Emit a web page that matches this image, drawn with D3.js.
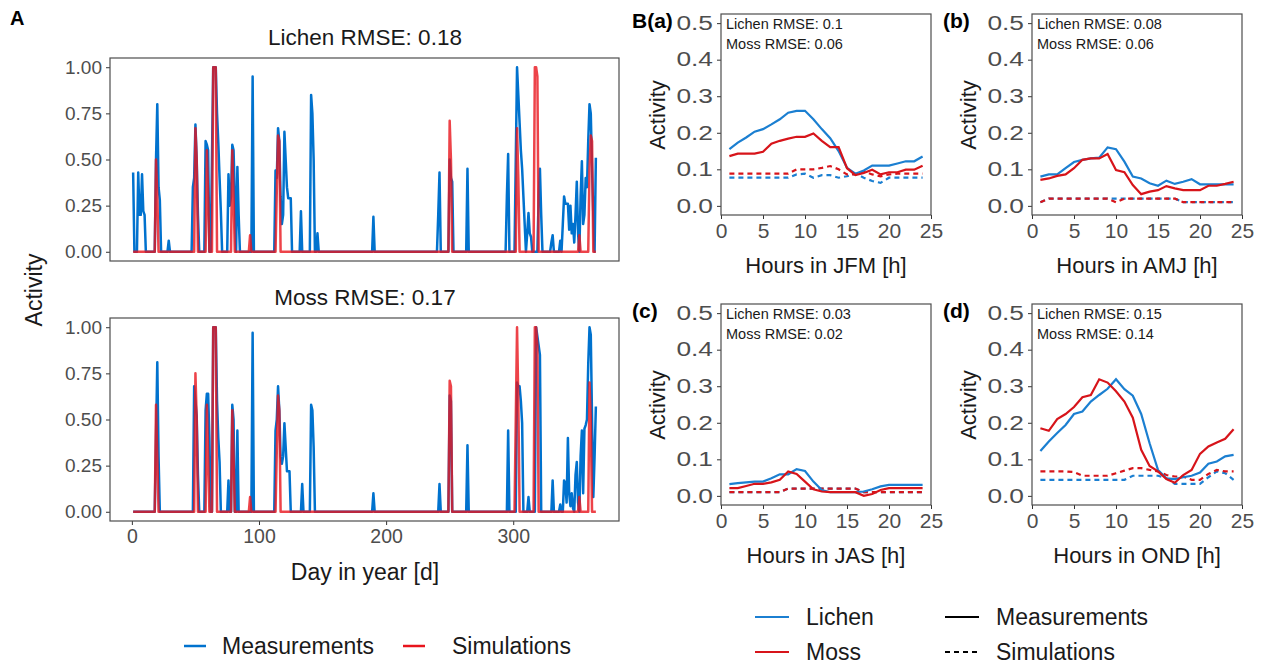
<!DOCTYPE html>
<html>
<head>
<meta charset="utf-8">
<script src="https://cdn.jsdelivr.net/npm/d3@7"></script>
<style>
  body { margin: 0; background: #fff; }
  svg { font-family: "Liberation Sans", Arial, sans-serif; }
  .tick text { fill: #4d4d4d; }
  .tick line { stroke: #333; }
  .domain { display: none; }
</style>
</head>
<body>
<svg id="chart" width="1266" height="670"></svg>
<script>
// ---- data: panel A, day-of-year peaks [day, activity]; all other days are 0
var lichenMeasPeaks = [[1,0.43],[5,0.43],[6,0.2],[7,0.2],[8,0.42],[9,0.22],[10,0.2],
  [19,0.5],[20,0.8],[21,0.35],[22,0.28],[29,0.06],
  [48,0.35],[49,0.4],[50,0.69],[51,0.5],[52,0.2],
  [58,0.6],[59,0.58],[60,0.55],
  [63,0.5],[64,1],[65,1],[66,1],[67,0.75],[68,0.59],[69,0.4],[70,0.22],
  [76,0.42],[77,0.25],[78,0.3],[79,0.58],[80,0.55],[81,0.3],[83,0.46],[84,0.2],
  [95,0.95],
  [113,0.44],[114,0.4],[115,0.67],[116,0.6],[117,0.3],[118,0.15],[119,0.2],[120,0.65],[121,0.5],[122,0.35],[123,0.29],[124,0.29],[125,0.29],
  [133,0.22],[141,0.85],[142,0.75],[143,0.5],[146,0.1],
  [190,0.19],[241,0.2],[242,0.43],
  [250,0.5],[251,0.4],[252,0.38],[264,0.45],
  [295,0.3],[296,0.53],
  [302,0.5],[303,1],[304,0.85],[305,0.7],[306,0.55],[307,0.45],[308,0.3],[309,0.15],
  [311,0.1],[312,0.21],[313,0.1],[314,0.08],
  [320,0.3],[321,0.45],[322,0.2],[330,0.05],[331,0.09],[337,0.06],
  [339,0.15],[340,0.3],[341,0.26],[342,0.26],[343,0.26],[344,0.12],[345,0.25],[346,0.1],[347,0.15],[348,0.05],[349,0.2],[350,0.38],[351,0.1],
  [353,0.3],[354,0.49],[355,0.15],[356,0.2],[357,0.4],[358,0.35],[359,0.6],[360,0.8],[361,0.75],[362,0.45],[363,0.2],[365,0.51]];
var lichenSimPeaks = [[19,0.5],[20,0.3],[50,0.67],[51,0.5],[59,0.55],[60,0.3],
  [64,1],[65,1],[66,1],[79,0.55],[80,0.3],[93,0.09],
  [114,0.33],[115,0.63],[116,0.6],[250,0.71],[251,0.5],
  [303,0.67],[304,0.4],[317,1],[318,1],[319,0.95],[352,0.09],
  [360,0.45],[361,0.63],[362,0.6]];
var mossMeasPeaks = [[19,0.4],[20,0.81],[21,0.3],
  [49,0.68],[50,0.6],[51,0.52],[52,0.2],
  [58,0.55],[59,0.64],[60,0.64],[61,0.4],
  [64,1],[65,1],[66,1],[67,0.6],[68,0.4],[69,0.27],
  [76,0.17],[79,0.58],[80,0.5],[83,0.44],[95,0.97],
  [113,0.44],[114,0.5],[115,0.68],[116,0.55],[117,0.3],[118,0.26],[119,0.3],[120,0.48],[121,0.35],[122,0.22],[123,0.22],[124,0.22],
  [134,0.15],[141,0.58],[142,0.55],[143,0.35],
  [190,0.1],[242,0.15],[250,0.63],[251,0.6],[264,0.36],[296,0.44],
  [303,0.7],[304,0.68],[305,0.68],[306,0.6],[307,0.48],[312,0.08],
  [318,1],[319,0.95],[320,0.9],[321,0.85],[331,0.17],[337,0.04],
  [340,0.17],[341,0.15],[342,0.05],[343,0.4],[344,0.1],[345,0.03],[346,0.1],[347,0.02],[349,0.2],[350,0.27],[351,0.05],
  [353,0.3],[354,0.44],[355,0.1],[356,0.45],[357,0.47],[358,0.5],[359,0.8],[360,1],[361,0.96],[362,0.5],[363,0.08],[364,0.3],[365,0.57]];
var mossSimPeaks = [[19,0.58],[20,0.3],[50,0.75],[51,0.5],[59,0.58],[60,0.3],
  [64,1],[65,1],[66,1],[79,0.55],[80,0.3],[93,0.08],
  [114,0.33],[115,0.63],[116,0.55],[250,0.71],[251,0.68],
  [302,0.5],[303,1],[304,0.6],[317,1],[318,1],[319,0.9],[352,0.08],
  [360,0.7],[361,0.5]];

// ---- data: panel B, hourly means (hours 1..24)
var hours = d3.range(1, 25);
var seasons = ["JFM", "AMJ", "JAS", "OND"];
var tags = ["B(a)", "(b)", "(c)", "(d)"];
var lichenRmse = ["0.1", "0.08", "0.03", "0.15"];
var mossRmse = ["0.06", "0.06", "0.02", "0.14"];

var lichenMeasJFM = [0.155,0.173,0.187,0.203,0.21,0.223,0.237,0.255,0.26,0.26,0.237,0.21,0.185,0.15,0.104,0.088,0.097,0.11,0.11,0.11,0.116,0.122,0.122,0.135];
var mossMeasJFM = [0.136,0.143,0.143,0.143,0.148,0.17,0.178,0.184,0.189,0.189,0.198,0.178,0.161,0.161,0.103,0.084,0.09,0.099,0.086,0.092,0.092,0.099,0.099,0.11];
var lichenSimJFM = [0.077,0.077,0.077,0.077,0.077,0.077,0.077,0.077,0.086,0.088,0.077,0.084,0.084,0.077,0.081,0.088,0.077,0.068,0.063,0.077,0.077,0.077,0.077,0.077];
var mossSimJFM = [0.088,0.088,0.088,0.088,0.088,0.088,0.088,0.088,0.1,0.1,0.1,0.104,0.109,0.1,0.086,0.086,0.095,0.086,0.081,0.086,0.088,0.088,0.088,0.088];

var lichenMeasAMJ = [0.08,0.086,0.086,0.103,0.12,0.126,0.13,0.132,0.16,0.155,0.121,0.08,0.075,0.062,0.055,0.069,0.06,0.066,0.073,0.059,0.059,0.059,0.059,0.059];
var mossMeasAMJ = [0.071,0.075,0.082,0.086,0.103,0.126,0.13,0.13,0.142,0.098,0.092,0.057,0.032,0.039,0.043,0.054,0.048,0.043,0.043,0.043,0.055,0.055,0.06,0.066];
var lichenSimAMJ = [0.01,0.02,0.02,0.02,0.02,0.02,0.02,0.02,0.02,0.02,0.02,0.02,0.02,0.02,0.02,0.02,0.02,0.01,0.01,0.01,0.01,0.01,0.01,0.01];
var mossSimAMJ = [0.01,0.02,0.02,0.02,0.02,0.02,0.02,0.02,0.02,0.01,0.02,0.02,0.02,0.02,0.02,0.02,0.02,0.01,0.01,0.01,0.01,0.01,0.01,0.01];

var lichenMeasJAS = [0.032,0.035,0.037,0.039,0.039,0.048,0.059,0.059,0.073,0.068,0.039,0.016,0.01,0.01,0.01,0.01,0.012,0.018,0.026,0.03,0.03,0.03,0.03,0.03];
var mossMeasJAS = [0.021,0.021,0.027,0.033,0.033,0.037,0.044,0.067,0.06,0.039,0.018,0.012,0.01,0.01,0.01,0.01,0.0,0.005,0.016,0.021,0.021,0.021,0.021,0.021];
var lichenSimJAS = [0.01,0.01,0.01,0.01,0.01,0.01,0.01,0.02,0.02,0.02,0.02,0.02,0.02,0.02,0.02,0.02,0.01,0.01,0.01,0.01,0.01,0.01,0.01,0.01];
var mossSimJAS = [0.01,0.01,0.01,0.01,0.01,0.01,0.01,0.02,0.02,0.02,0.02,0.02,0.02,0.02,0.02,0.02,0.01,0.01,0.01,0.01,0.01,0.01,0.01,0.01];

var lichenMeasOND = [0.123,0.149,0.172,0.194,0.224,0.231,0.258,0.276,0.293,0.319,0.292,0.274,0.224,0.144,0.071,0.048,0.046,0.051,0.055,0.064,0.088,0.094,0.108,0.112];
var mossMeasOND = [0.185,0.178,0.21,0.224,0.243,0.27,0.276,0.319,0.31,0.286,0.258,0.214,0.126,0.082,0.067,0.046,0.036,0.057,0.071,0.115,0.135,0.146,0.156,0.182];
var lichenSimOND = [0.044,0.044,0.044,0.044,0.044,0.044,0.044,0.044,0.044,0.044,0.044,0.055,0.055,0.055,0.055,0.048,0.033,0.033,0.033,0.033,0.051,0.067,0.062,0.044];
var mossSimOND = [0.067,0.067,0.067,0.067,0.065,0.055,0.055,0.055,0.055,0.062,0.069,0.076,0.076,0.071,0.067,0.057,0.053,0.053,0.044,0.044,0.06,0.071,0.067,0.067];

var blueA = "#0072ce", redA = "#e8141c";
var blueB = "#1b7fd1", redB = "#d7141a";
var ink = "#1a1a1a";

var svg = d3.select("#chart");

var daily = function(peaks) {
    let vals = d3.range(1, 366).map(function(d) { return [d, 0]; });
    peaks.forEach(function(p) { vals[p[0] - 1][1] = p[1]; });
    return vals;
}

// ---------- panel A ----------
var xDay = d3.scaleLinear().domain([1 - 18.2, 365 + 18.2]).range([110, 619]);

var dayPanel = function(top, title, meas, sim, showX) {
    var y = d3.scaleLinear().domain([-0.05, 1.05]).range([top + 203, top]);
    var g = svg.append("g");
    g.append("text").attr("x", 365).attr("y", top - 13)
        .attr("text-anchor", "middle").attr("font-size", 22.5).attr("fill", ink)
        .text(title);
    g.append("g").attr("transform", "translate(110,0)")
        .call(d3.axisLeft(y).tickValues([0, 0.25, 0.5, 0.75, 1]).tickFormat(d3.format(".2f")).tickSize(4).tickPadding(4))
        .selectAll("text").attr("font-size", 19);
    if (showX) {
        g.append("g").attr("transform", "translate(0," + (top + 203) + ")")
            .call(d3.axisBottom(xDay).tickValues([0, 100, 200, 300]).tickSize(4).tickPadding(4))
            .selectAll("text").attr("font-size", 19.5);
    }
    var line = d3.line().x(function(d) { return xDay(d[0]); }).y(function(d) { return y(d[1]); });
    g.append("path").datum(daily(meas)).attr("d", line)
        .attr("fill", "none").attr("stroke", blueA).attr("stroke-width", 2.5).attr("stroke-linejoin", "round");
    g.append("path").datum(daily(sim)).attr("d", line)
        .attr("fill", "none").attr("stroke", redA).attr("stroke-opacity", 0.8).attr("stroke-width", 2.5).attr("stroke-linejoin", "round");
    g.append("rect").attr("x", 110).attr("y", top).attr("width", 509).attr("height", 203)
        .attr("fill", "none").attr("stroke", "#4d4d4d").attr("stroke-width", 1.2);
}

dayPanel(58, "Lichen RMSE: 0.18", lichenMeasPeaks, lichenSimPeaks, false);
dayPanel(318, "Moss RMSE: 0.17", mossMeasPeaks, mossSimPeaks, true);

svg.append("text").attr("x", 10).attr("y", 25).attr("font-size", 20).attr("font-weight", "bold").text("A");
svg.append("text").attr("transform", "translate(42,290) rotate(-90)").attr("text-anchor", "middle")
    .attr("font-size", 23).attr("fill", ink).text("Activity");
svg.append("text").attr("x", 365).attr("y", 580).attr("text-anchor", "middle")
    .attr("font-size", 23).attr("fill", ink).text("Day in year [d]");

// legend A
[["Measurements", blueA, 184, 222], ["Simulations", redA, 403, 452]].forEach(function(l) {
    svg.append("line").attr("x1", l[2]).attr("x2", l[2] + 22).attr("y1", 646).attr("y2", 646)
        .attr("stroke", l[1]).attr("stroke-width", 2.5);
    svg.append("text").attr("x", l[3]).attr("y", 654).attr("font-size", 23).attr("fill", ink).text(l[0]);
});

// ---------- panel B ----------
var hourData = [
    [lichenMeasJFM, mossMeasJFM, lichenSimJFM, mossSimJFM],
    [lichenMeasAMJ, mossMeasAMJ, lichenSimAMJ, mossSimAMJ],
    [lichenMeasJAS, mossMeasJAS, lichenSimJAS, mossSimJAS],
    [lichenMeasOND, mossMeasOND, lichenSimOND, mossSimOND]
];
var boxX = [721, 1032, 721, 1032];
var boxY = [14, 14, 304, 304];
var boxW = 210, boxH = 201;
var yStretch = 1.35;

seasons.forEach(function(s, i) {
    var left = boxX[i], top = boxY[i];
    var x = d3.scaleLinear().domain([0, 25]).range([left, left + boxW]);
    var y = d3.scaleLinear().domain([-0.025, 0.525]).range([top + boxH, top]);
    var g = svg.append("g");

    g.append("g").attr("transform", "translate(" + left + ",0)")
        .call(d3.axisLeft(y).tickValues([0, 0.1, 0.2, 0.3, 0.4, 0.5]).tickFormat(d3.format(".1f")).tickSize(4).tickPadding(4))
        .selectAll("text").attr("font-size", 19.5)
        .attr("x", -8 / yStretch).attr("transform", "scale(" + yStretch + ",1)");
    g.append("g").attr("transform", "translate(0," + (top + boxH) + ")")
        .call(d3.axisBottom(x).tickValues([0, 5, 10, 15, 20, 25]).tickSize(4).tickPadding(4))
        .selectAll("text").attr("font-size", 21);

    var line = d3.line().x(function(d, k) { return x(hours[k]); }).y(function(d) { return y(d); });
    var sets = hourData[i];
    var styles = [[blueB, null], [redB, null], [blueB, "5,4"], [redB, "5,4"]];
    [2, 3, 0, 1].forEach(function(k) {
        g.append("path").datum(sets[k]).attr("d", line)
            .attr("fill", "none").attr("stroke", styles[k][0]).attr("stroke-width", 2.2)
            .attr("stroke-dasharray", styles[k][1]);
    });

    g.append("rect").attr("x", left).attr("y", top).attr("width", boxW).attr("height", boxH)
        .attr("fill", "none").attr("stroke", "#4d4d4d").attr("stroke-width", 1.2);

    g.append("text").attr("x", left + 5).attr("y", top + 15).attr("font-size", 14.5).attr("fill", ink)
        .text("Lichen RMSE: " + lichenRmse[i]);
    g.append("text").attr("x", left + 5).attr("y", top + 35).attr("font-size", 14.5).attr("fill", ink)
        .text("Moss RMSE: " + mossRmse[i]);

    g.append("text").attr("x", left - 89).attr("y", top + 14).attr("font-size", 21).attr("font-weight", "bold")
        .text(tags[i]);
    g.append("text").attr("transform", "translate(" + (left - 56) + "," + (top + 101) + ") rotate(-90)")
        .attr("text-anchor", "middle").attr("font-size", 22).attr("fill", ink).text("Activity");
    g.append("text").attr("x", left + boxW / 2).attr("y", top + boxH + 58).attr("text-anchor", "middle")
        .attr("font-size", 22).attr("fill", ink).text("Hours in " + s + " [h]");
});

// legend B (second row kept clear of the bottom edge)
[["Lichen", blueB, null, 755, 617], ["Moss", redB, null, 755, 652],
 ["Measurements", "#000", null, 945, 617], ["Simulations", "#000", "5,4", 945, 652]].forEach(function(l) {
    svg.append("line").attr("x1", l[3]).attr("x2", l[3] + 34).attr("y1", l[4]).attr("y2", l[4])
        .attr("stroke", l[1]).attr("stroke-width", 2.2).attr("stroke-dasharray", l[2]);
    svg.append("text").attr("x", l[3] + 51).attr("y", l[4] + 8).attr("font-size", 23).attr("fill", ink).text(l[0]);
});
</script>
</body>
</html>
